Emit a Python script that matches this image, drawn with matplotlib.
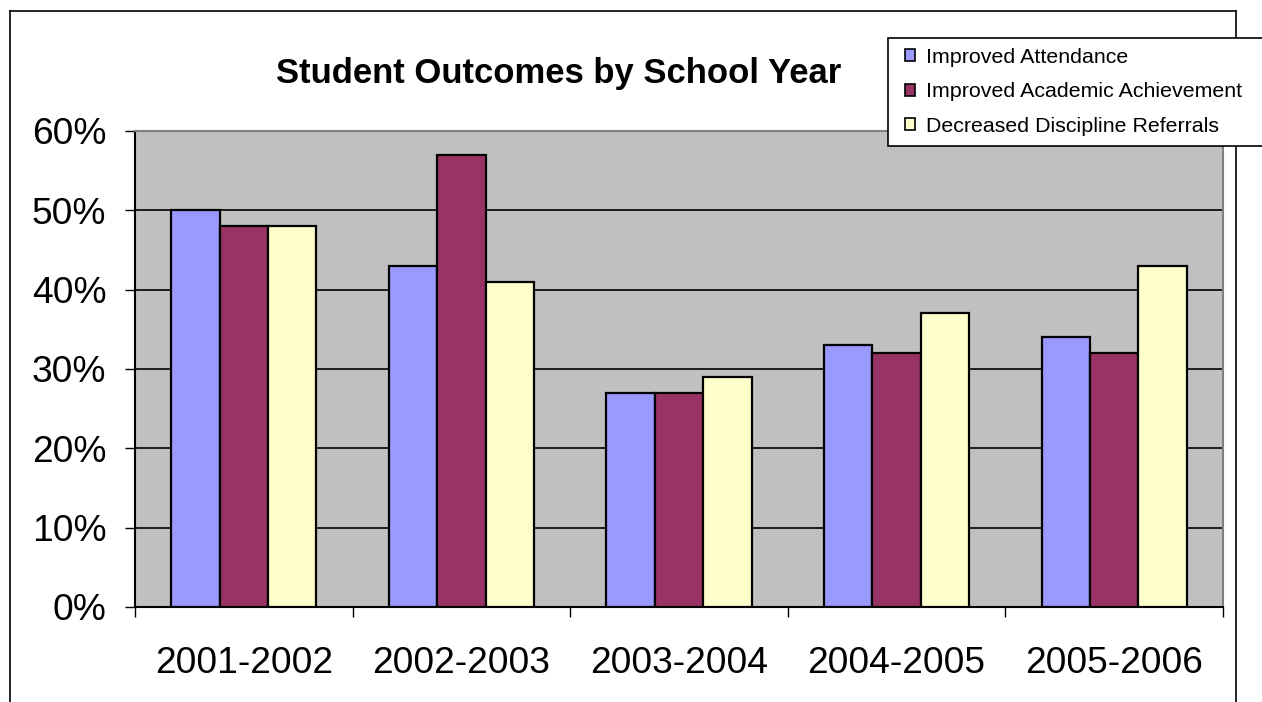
import matplotlib.pyplot as plt
import numpy as np
from matplotlib.patches import Rectangle
from matplotlib.lines import Line2D
from matplotlib.ticker import FixedLocator, PercentFormatter

plt.rcParams['font.family'] = ['Liberation Sans', 'DejaVu Sans']

years = ['2001-2002', '2002-2003', '2003-2004', '2004-2005', '2005-2006']
series = ['Improved Attendance', 'Improved Academic Achievement', 'Decreased Discipline Referrals']
attendance = [50, 43, 27, 33, 34]
academic = [48, 57, 27, 32, 32]
discipline = [48, 41, 29, 37, 43]
colors = ['#9999FF', '#993366', '#FFFFCC']

W, H = 1262, 702
fig = plt.figure(figsize=(W / 100, H / 100), dpi=100)

def px(x0, y0, x1, y1):
    # pixel box (top-left origin) -> figure fraction rect
    return [x0 / W, 1 - y1 / H, (x1 - x0) / W, (y1 - y0) / H]

ax = fig.add_axes(px(135, 131, 1223, 607))
ax.set_facecolor('#C0C0C0')

x = np.arange(len(years))
bw = 1 / 4.5
for i, vals in enumerate([attendance, academic, discipline]):
    ax.bar(x + (i - 1) * bw, vals, width=bw, color=colors[i], edgecolor='black',
           linewidth=1.6, label=series[i], zorder=3)

ax.set_xlim(-0.5, len(years) - 0.5)
ax.set_ylim(0, 60)
ax.set_yticks(np.arange(0, 61, 10))
ax.yaxis.set_major_formatter(PercentFormatter(decimals=0))
for v in range(10, 60, 10):
    ax.axhline(v, color='black', lw=1.2, zorder=1)

ax.set_xticks(x)
ax.set_xticklabels(years)
ax.xaxis.set_minor_locator(FixedLocator(np.arange(-0.5, len(years), 1)))
ax.tick_params(axis='x', which='major', length=0, pad=28, labelsize=26.7)
ax.tick_params(axis='x', which='minor', length=7.5, width=1, direction='out')
ax.tick_params(axis='y', length=7.5, width=1, direction='out', pad=13, labelsize=26.7)

ax.spines['left'].set_color('black')
ax.spines['bottom'].set_color('black')
ax.spines['top'].set_color('#808080')
ax.spines['right'].set_color('#808080')
for s in ax.spines.values():
    s.set_linewidth(1.5)

# title
fig.text(559 / W, 1 - 74 / H, 'Student Outcomes by School Year', ha='center', va='center',
         fontsize=24.9, fontweight='bold')

# chart area frame
tr = fig.transFigure
fx = lambda p: p / W
fy = lambda p: 1 - p / H
fig.add_artist(Line2D([fx(10), fx(10)], [fy(11), fy(702)], color='black', lw=1.2, transform=tr))
fig.add_artist(Line2D([fx(10), fx(1236)], [fy(11), fy(11)], color='black', lw=1.2, transform=tr))
fig.add_artist(Line2D([fx(1236), fx(1236)], [fy(11), fy(702)], color='black', lw=1.2, transform=tr))

# legend box
fig.add_artist(Rectangle((fx(888), fy(146)), fx(400), (146 - 38) / H, transform=tr,
                         facecolor='white', edgecolor='black', lw=1.2, zorder=5))
handles, labels = ax.get_legend_handles_labels()
leg = fig.legend(handles, labels, loc='upper left', bbox_to_anchor=(fx(890), fy(33)),
                 frameon=False, fontsize=15.4, handlelength=0.47, handleheight=0.47,
                 handletextpad=0.5, labelspacing=0.72, borderpad=0.2)
leg.set_zorder(6)
for h in leg.legend_handles:
    h.set_linewidth(1.2)

fig.savefig('out.png', dpi=100)
